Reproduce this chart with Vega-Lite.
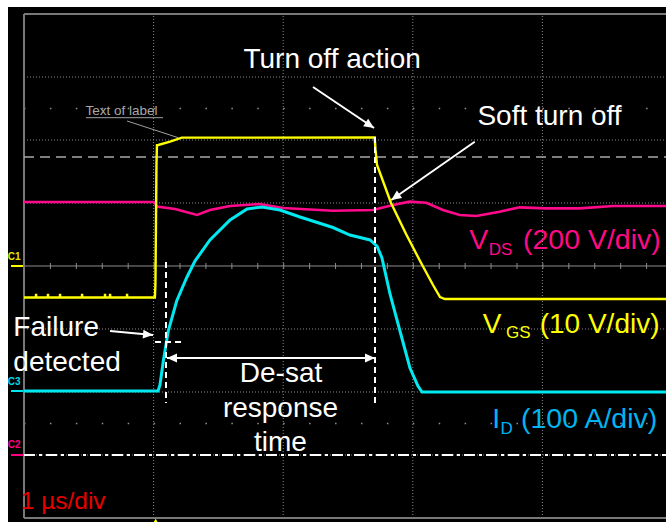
{
  "$schema": "https://vega.github.io/schema/vega-lite/v6.json",
  "width": 658,
  "height": 515,
  "padding": {"left": 8, "top": 7, "right": 0, "bottom": 0},
  "autosize": {"type": "none"},
  "background": "white",
  "config": {"view": {"fill": "black", "stroke": null}, "text": {"font": "Liberation Sans"}},
  "datasets": {
    "gridV": [{"x": 1, "y": -4, "y2": 4}, {"x": 2, "y": -4, "y2": 4}, {"x": 3, "y": -4, "y2": 4}, {"x": 4, "y": -4, "y2": 4}],
    "gridH": [{"x": 0, "x2": 4.954, "y": 3}, {"x": 0, "x2": 4.954, "y": 2}, {"x": 0, "x2": 4.954, "y": 1}, {"x": 0, "x2": 4.954, "y": -1}, {"x": 0, "x2": 4.954, "y": -2}, {"x": 0, "x2": 4.954, "y": -3}],
    "dotRows": [{"x": 0, "x2": 4.954, "y": 2.5}, {"x": 0, "x2": 4.954, "y": -2.5}],
    "center": [{"x": 0, "x2": 4.954, "y": 0}],
    "frame": [{"x": 0, "y": -4, "x2": 0, "y2": 4}, {"x": 0, "y": 4, "x2": 4.954, "y2": 4}, {"x": 0, "y": -4, "x2": 4.954, "y2": -4}],
    "grayDash": [{"x": 0, "x2": 4.954, "y": 1.73}],
    "dashDot": [{"x": 0, "x2": 4.954, "y": -3}],
    "markC1": [{"x": -0.1, "x2": -0.008, "y": 0}],
    "markC3": [{"x": -0.1, "x2": -0.008, "y": -1.984}],
    "markC2": [{"x": -0.1, "x2": -0.008, "y": -3}],
    "labC1": [{"x": -0.125, "y": 0.095, "text": "C1"}],
    "labC3": [{"x": -0.125, "y": -1.889, "text": "C3"}],
    "labC2": [{"x": -0.125, "y": -2.889, "text": "C2"}],
    "vds": [
      {"x": 0, "y": 1.016}, {"x": 1.0, "y": 1.016}, {"x": 1.012, "y": 0.99}, {"x": 1.026, "y": 0.942},
      {"x": 1.165, "y": 0.905}, {"x": 1.335, "y": 0.81}, {"x": 1.435, "y": 0.889}, {"x": 1.59, "y": 0.952},
      {"x": 1.821, "y": 0.984}, {"x": 1.998, "y": 0.92}, {"x": 2.384, "y": 0.878}, {"x": 2.693, "y": 0.889},
      {"x": 2.847, "y": 0.968}, {"x": 2.976, "y": 1.021}, {"x": 3.104, "y": 1.005}, {"x": 3.233, "y": 0.889},
      {"x": 3.362, "y": 0.81}, {"x": 3.49, "y": 0.794}, {"x": 3.67, "y": 0.862}, {"x": 3.825, "y": 0.931},
      {"x": 4.03, "y": 0.915}, {"x": 4.288, "y": 0.915}, {"x": 4.545, "y": 0.952}, {"x": 4.954, "y": 0.952}
    ],
    "vgs": [
      {"x": 0, "y": -0.5},
      {"x": 0.092, "y": -0.5}, {"x": 0.093, "y": -0.44}, {"x": 0.095, "y": -0.5},
      {"x": 0.184, "y": -0.5}, {"x": 0.185, "y": -0.44}, {"x": 0.187, "y": -0.5},
      {"x": 0.277, "y": -0.5}, {"x": 0.278, "y": -0.44}, {"x": 0.28, "y": -0.5},
      {"x": 0.447, "y": -0.5}, {"x": 0.448, "y": -0.44}, {"x": 0.45, "y": -0.5},
      {"x": 0.624, "y": -0.5}, {"x": 0.625, "y": -0.44}, {"x": 0.627, "y": -0.5},
      {"x": 0.663, "y": -0.5}, {"x": 0.664, "y": -0.44}, {"x": 0.666, "y": -0.5},
      {"x": 0.794, "y": -0.5}, {"x": 0.795, "y": -0.44}, {"x": 0.797, "y": -0.5},
      {"x": 1.01, "y": -0.5}, {"x": 1.014, "y": -0.3}, {"x": 1.018, "y": 0.6},
      {"x": 1.022, "y": 1.6}, {"x": 1.026, "y": 1.92}, {"x": 1.036, "y": 1.921}, {"x": 1.127, "y": 1.974},
      {"x": 1.217, "y": 2.037}, {"x": 2.706, "y": 2.04}, {"x": 2.712, "y": 1.85}, {"x": 2.724, "y": 1.603},
      {"x": 2.832, "y": 1.0}, {"x": 2.948, "y": 0.508}, {"x": 3.056, "y": 0.079}, {"x": 3.156, "y": -0.302},
      {"x": 3.21, "y": -0.492}, {"x": 3.248, "y": -0.524}, {"x": 4.954, "y": -0.524}
    ],
    "id": [
      {"x": 0, "y": -1.984}, {"x": 1.034, "y": -1.984}, {"x": 1.049, "y": -1.889}, {"x": 1.075, "y": -1.508},
      {"x": 1.113, "y": -1.032}, {"x": 1.178, "y": -0.556}, {"x": 1.255, "y": -0.186}, {"x": 1.319, "y": 0.079},
      {"x": 1.435, "y": 0.413}, {"x": 1.59, "y": 0.73}, {"x": 1.721, "y": 0.905}, {"x": 1.836, "y": 0.937},
      {"x": 1.975, "y": 0.889}, {"x": 2.13, "y": 0.778}, {"x": 2.384, "y": 0.611}, {"x": 2.515, "y": 0.492},
      {"x": 2.67, "y": 0.413}, {"x": 2.724, "y": 0.317}, {"x": 2.762, "y": 0.127}, {"x": 2.824, "y": -0.444},
      {"x": 2.901, "y": -1.032}, {"x": 2.978, "y": -1.619}, {"x": 3.04, "y": -1.905}, {"x": 3.071, "y": -2.0},
      {"x": 4.954, "y": -2.0}
    ],
    "arrowLines": [
      {"x": 2.23, "y": 2.841, "x2": 2.701, "y2": 2.19},
      {"x": 3.478, "y": 1.973, "x2": 2.834, "y2": 1.048},
      {"x": 0.6636, "y": -1.032, "x2": 0.9954, "y2": -1.095},
      {"x": 1.1034, "y": -1.46, "x2": 2.7083, "y2": -1.46}
    ],
    "whiteDash": [
      {"x": 1.0957, "y": 0.063, "x2": 1.0957, "y2": -2.175},
      {"x": 2.7083, "y": 2.048, "x2": 2.7083, "y2": -2.175},
      {"x": 1.0108, "y": -1.206, "x2": 1.2269, "y2": -1.206}
    ],
    "leader": [
      {"x": 0.795, "y": 2.302, "x2": 1.191, "y2": 2.036},
      {"x": 0.478, "y": 2.354, "x2": 1.073, "y2": 2.354}
    ],
    "head1": [{"x": 2.701, "y": 2.19}],
    "head2": [{"x": 2.834, "y": 1.048}],
    "head3": [{"x": 0.9954, "y": -1.095}],
    "headL": [{"x": 1.1034, "y": -1.46}],
    "headR": [{"x": 2.7083, "y": -1.46}],
    "trig": [{"x": 1.016, "y": -4.048}],
    "whiteCenter": [
      {"x": 2.378, "y": 3.138, "text": "Turn off action"},
      {"x": 4.055, "y": 2.238, "text": "Soft turn off"},
      {"x": 1.983, "y": -1.837, "text": "De-sat"},
      {"x": 1.979, "y": -2.392, "text": "response"},
      {"x": 1.979, "y": -2.937, "text": "time"}
    ],
    "whiteLeft": [
      {"x": -0.082, "y": -1.111, "text": "Failure"},
      {"x": -0.082, "y": -1.667, "text": "detected"}
    ],
    "magBig": [{"x": 3.436, "y": 0.27, "text": "V"}, {"x": 3.85, "y": 0.27, "text": "(200 V/div)"}],
    "magSub": [{"x": 3.586, "y": 0.175, "text": "DS"}],
    "yelBig": [{"x": 3.539, "y": -1.063, "text": "V"}, {"x": 3.979, "y": -1.063, "text": "(10 V/div)"}],
    "yelSub": [{"x": 3.719, "y": -1.143, "text": "GS"}],
    "cyBig": [{"x": 3.614, "y": -2.571, "text": "I"}, {"x": 3.835, "y": -2.571, "text": "(100 A/div)"}],
    "cySub": [{"x": 3.676, "y": -2.667, "text": "D"}],
    "red": [{"x": -0.0255, "y": -3.862, "text": "1 µs/div"}],
    "grayLabel": [{"x": 0.4745, "y": 2.397, "text": "Text of label"}]
  },
  "encoding": {
    "x": {"field": "x", "type": "quantitative", "scale": {"domain": [-0.12346, 4.9537], "nice": false, "zero": false}, "axis": null},
    "y": {"field": "y", "type": "quantitative", "scale": {"domain": [-4.0635, 4.1111], "nice": false, "zero": false}, "axis": null}
  },
  "layer": [
    {"data": {"name": "gridV"}, "mark": {"type": "rule", "color": "#8c8c8c", "strokeWidth": 1, "strokeDash": [1, 2]}, "encoding": {"y2": {"field": "y2"}}},
    {"data": {"name": "gridH"}, "mark": {"type": "rule", "color": "#8c8c8c", "strokeWidth": 1, "strokeDash": [1, 2]}, "encoding": {"x2": {"field": "x2"}}},
    {"data": {"name": "dotRows"}, "mark": {"type": "rule", "color": "#909090", "strokeWidth": 1.5, "strokeDash": [1.5, 24.42]}, "encoding": {"x2": {"field": "x2"}}},
    {"data": {"name": "center"}, "mark": {"type": "rule", "color": "#8c8c8c", "strokeWidth": 1}, "encoding": {"x2": {"field": "x2"}}},
    {"data": {"name": "center"}, "mark": {"type": "rule", "color": "#8c8c8c", "strokeWidth": 6, "strokeDash": [1, 24.92]}, "encoding": {"x2": {"field": "x2"}}},
    {"data": {"name": "frame"}, "mark": {"type": "rule", "color": "#787878", "strokeWidth": 2}, "encoding": {"x2": {"field": "x2"}, "y2": {"field": "y2"}}},
    {"data": {"name": "grayDash"}, "mark": {"type": "rule", "color": "#a8a8a8", "strokeWidth": 1.5, "strokeDash": [10, 6]}, "encoding": {"x2": {"field": "x2"}}},
    {"data": {"name": "dashDot"}, "mark": {"type": "rule", "color": "#ffffff", "strokeWidth": 2, "strokeDash": [11, 4, 3, 4]}, "encoding": {"x2": {"field": "x2"}}},
    {"data": {"name": "markC1"}, "mark": {"type": "rule", "color": "#ffff00", "strokeWidth": 2}, "encoding": {"x2": {"field": "x2"}}},
    {"data": {"name": "markC3"}, "mark": {"type": "rule", "color": "#00e8f0", "strokeWidth": 2}, "encoding": {"x2": {"field": "x2"}}},
    {"data": {"name": "markC2"}, "mark": {"type": "rule", "color": "#ff0080", "strokeWidth": 2}, "encoding": {"x2": {"field": "x2"}}},
    {"data": {"name": "labC1"}, "mark": {"type": "text", "color": "#e8e800", "fontSize": 10, "fontWeight": "bold", "align": "left", "baseline": "alphabetic"}, "encoding": {"text": {"field": "text"}}},
    {"data": {"name": "labC3"}, "mark": {"type": "text", "color": "#00d8e8", "fontSize": 10, "fontWeight": "bold", "align": "left", "baseline": "alphabetic"}, "encoding": {"text": {"field": "text"}}},
    {"data": {"name": "labC2"}, "mark": {"type": "text", "color": "#ff0080", "fontSize": 10, "fontWeight": "bold", "align": "left", "baseline": "alphabetic"}, "encoding": {"text": {"field": "text"}}},
    {"data": {"name": "vds"}, "mark": {"type": "line", "color": "#ff0a8a", "strokeWidth": 2.6}},
    {"data": {"name": "vgs"}, "mark": {"type": "line", "color": "#ffff00", "strokeWidth": 2.4}},
    {"data": {"name": "id"}, "mark": {"type": "line", "color": "#00e8f0", "strokeWidth": 3}},
    {"data": {"name": "whiteDash"}, "mark": {"type": "rule", "color": "#ffffff", "strokeWidth": 2, "strokeDash": [6, 4]}, "encoding": {"x2": {"field": "x2"}, "y2": {"field": "y2"}}},
    {"data": {"name": "arrowLines"}, "mark": {"type": "rule", "color": "#ffffff", "strokeWidth": 2}, "encoding": {"x2": {"field": "x2"}, "y2": {"field": "y2"}}},
    {"data": {"name": "leader"}, "mark": {"type": "rule", "color": "#a0a0a0", "strokeWidth": 1}, "encoding": {"x2": {"field": "x2"}, "y2": {"field": "y2"}}},
    {"data": {"name": "head1"}, "mark": {"type": "point", "shape": "M0,0L-1,-0.45L-1,0.45Z", "filled": true, "color": "#ffffff", "opacity": 1, "size": 400, "angle": 33}},
    {"data": {"name": "head2"}, "mark": {"type": "point", "shape": "M0,0L-1,-0.45L-1,0.45Z", "filled": true, "color": "#ffffff", "opacity": 1, "size": 400, "angle": 145}},
    {"data": {"name": "head3"}, "mark": {"type": "point", "shape": "M0,0L-1,-0.45L-1,0.45Z", "filled": true, "color": "#ffffff", "opacity": 1, "size": 400, "angle": 5}},
    {"data": {"name": "headL"}, "mark": {"type": "point", "shape": "M0,0L-1,-0.45L-1,0.45Z", "filled": true, "color": "#ffffff", "opacity": 1, "size": 400, "angle": 180}},
    {"data": {"name": "headR"}, "mark": {"type": "point", "shape": "M0,0L-1,-0.45L-1,0.45Z", "filled": true, "color": "#ffffff", "opacity": 1, "size": 400, "angle": 0}},
    {"data": {"name": "trig"}, "mark": {"type": "point", "shape": "triangle-up", "filled": true, "color": "#ffff00", "opacity": 1, "size": 30}},
    {"data": {"name": "whiteCenter"}, "mark": {"type": "text", "color": "#ffffff", "fontSize": 28, "align": "center", "baseline": "alphabetic"}, "encoding": {"text": {"field": "text"}}},
    {"data": {"name": "whiteLeft"}, "mark": {"type": "text", "color": "#ffffff", "fontSize": 28, "align": "left", "baseline": "alphabetic"}, "encoding": {"text": {"field": "text"}}},
    {"data": {"name": "magBig"}, "mark": {"type": "text", "color": "#ff0a86", "fontSize": 28.5, "align": "left", "baseline": "alphabetic"}, "encoding": {"text": {"field": "text"}}},
    {"data": {"name": "magSub"}, "mark": {"type": "text", "color": "#ff0a86", "fontSize": 17, "align": "left", "baseline": "alphabetic"}, "encoding": {"text": {"field": "text"}}},
    {"data": {"name": "yelBig"}, "mark": {"type": "text", "color": "#ffff00", "fontSize": 28, "align": "left", "baseline": "alphabetic"}, "encoding": {"text": {"field": "text"}}},
    {"data": {"name": "yelSub"}, "mark": {"type": "text", "color": "#ffff00", "fontSize": 17, "align": "left", "baseline": "alphabetic"}, "encoding": {"text": {"field": "text"}}},
    {"data": {"name": "cyBig"}, "mark": {"type": "text", "color": "#00b4f0", "fontSize": 28.5, "align": "left", "baseline": "alphabetic"}, "encoding": {"text": {"field": "text"}}},
    {"data": {"name": "cySub"}, "mark": {"type": "text", "color": "#00b4f0", "fontSize": 17, "align": "left", "baseline": "alphabetic"}, "encoding": {"text": {"field": "text"}}},
    {"data": {"name": "red"}, "mark": {"type": "text", "color": "#e60000", "fontSize": 24.5, "align": "left", "baseline": "alphabetic"}, "encoding": {"text": {"field": "text"}}},
    {"data": {"name": "grayLabel"}, "mark": {"type": "text", "color": "#a8a8a8", "fontSize": 13.5, "align": "left", "baseline": "alphabetic"}, "encoding": {"text": {"field": "text"}}}
  ]
}
